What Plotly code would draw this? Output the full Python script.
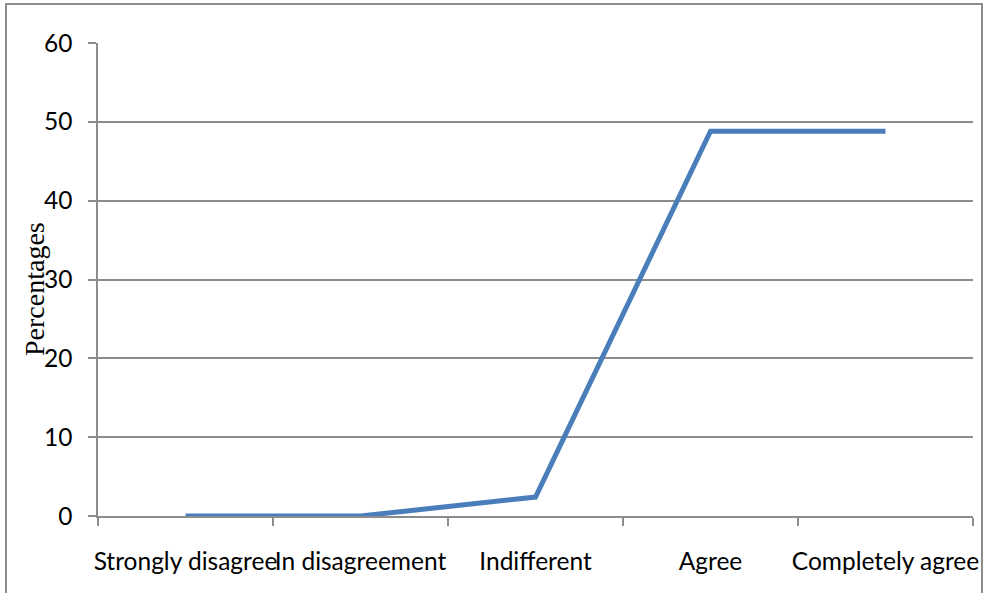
import plotly.graph_objects as go

categories = ["Strongly disagree", "In disagreement", "Indifferent", "Agree", "Completely agree"]
percentages = [0, 0, 2.4, 48.8, 48.8]
y_ticks = [0, 10, 20, 30, 40, 50, 60]

x_pos = list(range(len(categories)))
boundaries = [i - 0.5 for i in range(len(categories) + 1)]

GRAY = "#8c8c8c"
LABEL_FONT = dict(family="Lato, 'Liberation Sans', sans-serif", size=24.5, color="#000000")

fig = go.Figure()
fig.add_trace(go.Scatter(
    x=x_pos, y=percentages, mode="lines",
    line=dict(color="#4a7ebb", width=5),
    showlegend=False, hoverinfo="skip",
))

fig.update_layout(
    width=986, height=593,
    margin=dict(l=98, r=13, t=43, b=77, autoexpand=False),
    paper_bgcolor="white", plot_bgcolor="white",
    xaxis=dict(
        range=[-0.5, len(categories) - 0.5],
        tickvals=x_pos, ticktext=categories, tickangle=0, automargin=False,
        ticks="", showgrid=False, zeroline=False,
        showline=True, linecolor=GRAY, linewidth=1.5,
        tickfont=LABEL_FONT, ticklabelstandoff=23,
        minor=dict(tickvals=boundaries, ticks="outside", ticklen=8,
                   tickcolor=GRAY, tickwidth=1.5, showgrid=False),
    ),
    yaxis=dict(
        range=[0, 60], tickvals=y_ticks, automargin=False,
        ticks="outside", ticklen=8, tickcolor=GRAY, tickwidth=1.5,
        showgrid=True, gridcolor=GRAY, gridwidth=1.5,
        zeroline=False, showline=True, linecolor=GRAY, linewidth=1.5,
        tickfont=LABEL_FONT, ticklabelstandoff=11,
    ),
    annotations=[dict(
        text="Percentages", textangle=-90,
        xref="paper", yref="paper",
        x=(34 - 98) / 875, y=(516 - 289) / 473,
        xanchor="center", yanchor="middle", showarrow=False,
        font=dict(family="'Liberation Serif', 'Times New Roman', serif", size=28, color="#000000"),
    )],
    shapes=[dict(
        type="rect", xref="paper", yref="paper",
        x0=(6 - 98) / 875, x1=(982 - 98) / 875,
        y0=-0.3, y1=(516 - 4) / 473,
        line=dict(color=GRAY, width=2), fillcolor="rgba(0,0,0,0)", layer="below",
    )],
)

fig.write_html("out.html", config={"displayModeBar": False},
               post_script="document.body.style.margin='0';")
